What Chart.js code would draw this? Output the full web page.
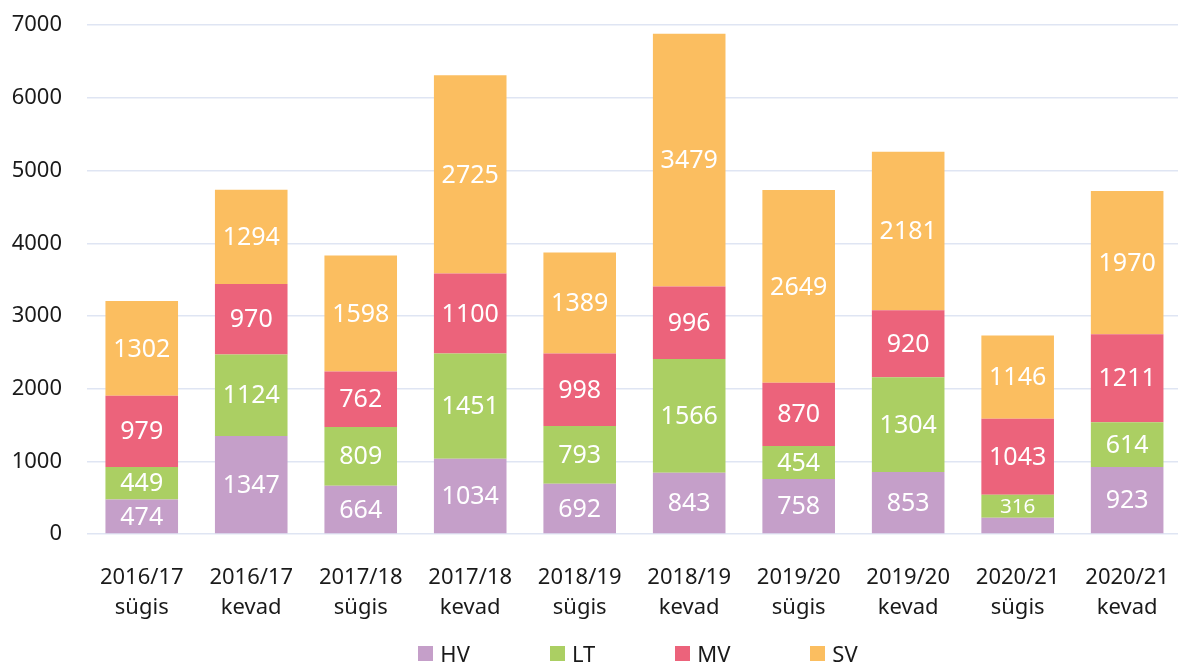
<!DOCTYPE html>
<html>
<head>
<meta charset="utf-8">
<script src="https://cdn.jsdelivr.net/npm/chart.js@4"></script>
<style>
  html, body { margin: 0; padding: 0; background: #fff; overflow: hidden; }
  #wrap { position: relative; width: 1189px; height: 663px; overflow: hidden; }
  #chart { display: block; position: absolute; left: 0; top: -13px; }
  #legend {
    position: absolute; left: 87px; width: 1102px; top: 642px;
    display: flex; justify-content: center; gap: 80px;
    font-family: "Noto Sans", sans-serif; font-size: 22px; line-height: 22px; color: #1a1a1a;
  }
  #legend span.item { display: flex; align-items: center; }
  #legend span.box { width: 15px; height: 15px; margin-right: 7px; display: inline-block; }
</style>
</head>
<body>
<div id="wrap">
  <canvas id="chart" width="1189" height="676"></canvas>
  <div id="legend"></div>
</div>
<script>
const categories = [
  ["2016/17", "sügis"], ["2016/17", "kevad"],
  ["2017/18", "sügis"], ["2017/18", "kevad"],
  ["2018/19", "sügis"], ["2018/19", "kevad"],
  ["2019/20", "sügis"], ["2019/20", "kevad"],
  ["2020/21", "sügis"], ["2020/21", "kevad"]
];
const hv = [474, 1347, 664, 1034, 692, 843, 758, 853, 225, 923];
const lt = [449, 1124, 809, 1451, 793, 1566, 454, 1304, 316, 614];
const mv = [979, 970, 762, 1100, 998, 996, 870, 920, 1043, 1211];
const sv = [1302, 1294, 1598, 2725, 1389, 3479, 2649, 2181, 1146, 1970];
const seriesNames = ["HV", "LT", "MV", "SV"];
const seriesColors = ["#c59fc9", "#abcf63", "#ec637b", "#fbbe60"];
const yTicks = [0, 1000, 2000, 3000, 4000, 5000, 6000, 7000];

const FONT = '"Noto Sans", sans-serif';

const barLabels = {
  id: "barLabels",
  afterDatasetsDraw(chart) {
    const ctx = chart.ctx;
    ctx.save();
    ctx.fillStyle = "#ffffff";
    ctx.textAlign = "center";
    ctx.textBaseline = "middle";
    chart.data.datasets.forEach((ds, i) => {
      const meta = chart.getDatasetMeta(i);
      meta.data.forEach((bar, j) => {
        const p = bar.getProps(["x", "y", "base"], true);
        const h = p.base - p.y;
        if (h < 20) return;
        const size = Math.min(25, h * 0.9);
        ctx.font = size + "px " + FONT;
        ctx.fillText(String(ds.data[j]), p.x, (p.y + p.base) / 2 + 1);
      });
    });
    ctx.restore();
  }
};

const allSeries = [hv, lt, mv, sv];
const datasets = allSeries.map((d, i) => ({
  label: seriesNames[i],
  data: d,
  backgroundColor: seriesColors[i],
  borderWidth: 0,
  barPercentage: 0.663,
  categoryPercentage: 1.0
}));

const ctx = document.getElementById("chart").getContext("2d");
const chart = new Chart(ctx, {
  type: "bar",
  data: { labels: categories, datasets: datasets },
  options: {
    responsive: false,
    animation: false,
    layout: { padding: 0 },
    plugins: {
      legend: { display: false },
      tooltip: { enabled: false }
    },
    scales: {
      x: {
        stacked: true,
        grid: { display: false },
        border: { display: false },
        ticks: {
          color: "#1a1a1a",
          padding: 20,
          maxRotation: 0,
          autoSkip: false,
          font: { family: FONT, size: 22, lineHeight: 1.4 }
        },
        afterFit: (scale) => { scale.height = 129; }
      },
      y: {
        stacked: true,
        min: 0,
        max: 7000,
        afterBuildTicks: (scale) => { scale.ticks = yTicks.map((v) => ({ value: v })); },
        grid: { color: "#dfe5f3", lineWidth: 1.5, drawTicks: false },
        border: { display: false },
        ticks: {
          color: "#1a1a1a",
          padding: 25,
          font: { family: FONT, size: 22 },
          callback: (v) => String(v)
        },
        afterFit: (scale) => { scale.width = 87; }
      }
    }
  },
  plugins: [barLabels]
});

const legendEl = document.getElementById("legend");
seriesNames.forEach((name, i) => {
  const item = document.createElement("span");
  item.className = "item";
  const box = document.createElement("span");
  box.className = "box";
  box.style.background = seriesColors[i];
  item.appendChild(box);
  item.appendChild(document.createTextNode(name));
  legendEl.appendChild(item);
});
</script>
</body>
</html>
